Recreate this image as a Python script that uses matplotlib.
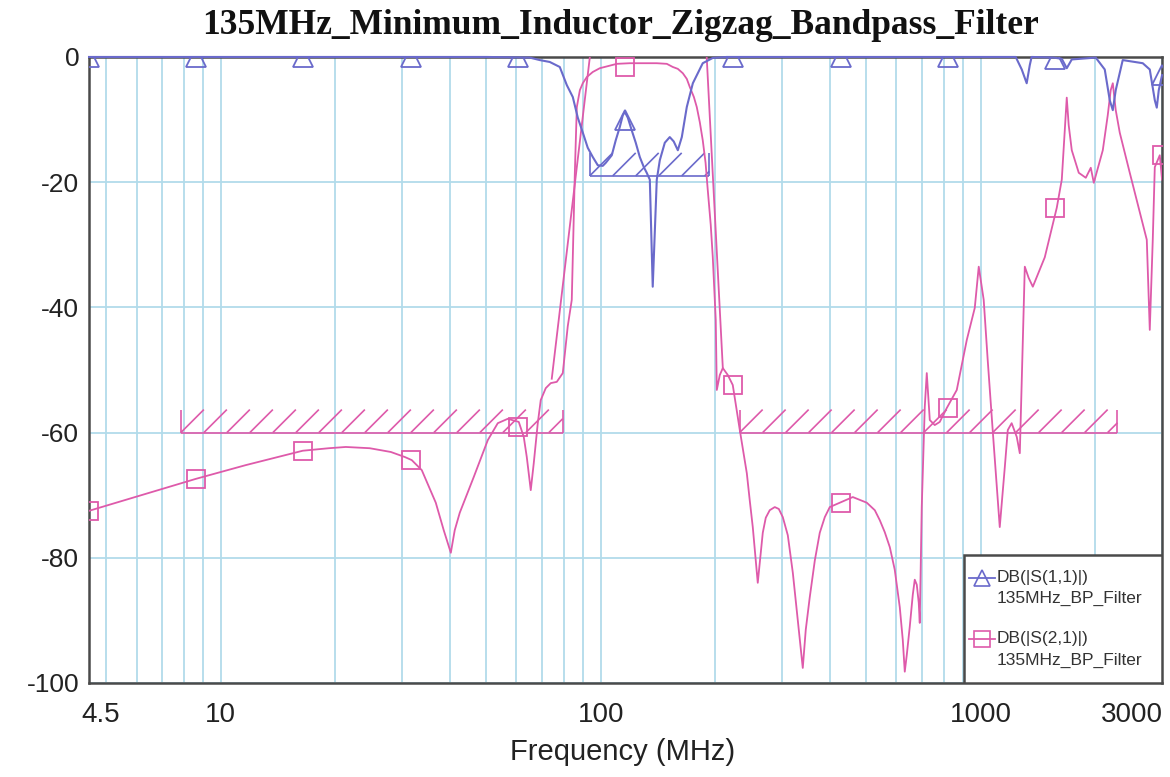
import numpy as np
import matplotlib
matplotlib.use("Agg")
import matplotlib.pyplot as plt
from matplotlib.collections import LineCollection
from matplotlib.transforms import IdentityTransform, ScaledTranslation
from matplotlib.patches import Rectangle
from matplotlib.lines import Line2D
from matplotlib.ticker import LogLocator, NullFormatter

plt.rcParams['font.family'] = ['Liberation Sans', 'DejaVu Sans']

title = "135MHz_Minimum_Inductor_Zigzag_Bandpass_Filter"

# DB(|S(1,1)|), frequency in MHz
s11_freq = [4.5, 20, 50, 65, 69.1, 73.4, 78.0, 81.4, 84.4, 87.0,
            89.7, 92.4, 95.3, 98.2, 101.2, 103.1, 106.9, 109.5, 112.2, 114.3,
            115.7, 117.8, 120.6, 123.6, 126.7, 129.8, 132.1, 134.6, 137.0, 140.4,
            143.0, 147.4, 151.9, 155.6, 159.5, 163.4, 168.4, 174.7, 185.5, 197.1,
            214.6, 500, 1236, 1282, 1321, 1346, 1361, 1556, 1634, 1684,
            1736, 2007, 2120, 2185, 2226, 2266, 2364, 2669, 2785, 2871,
            2906, 2941, 3000]
s11_db = [0, 0, 0, -0.1, -0.5, -0.8, -1.6, -4.5, -6.4, -9.7,
          -12.1, -14.5, -16.0, -17.3, -17.4, -16.9, -15.7, -13.3, -11.2, -9.3,
          -8.8, -9.7, -11.7, -13.7, -16.0, -17.6, -18.5, -19.6, -36.7, -19.6,
          -16.5, -13.7, -12.8, -13.5, -14.9, -12.8, -8.0, -4.2, -1.0, -0.16,
          0, 0, 0, -2.0, -4.2, -1.3, 0, -0.1, -0.3, -1.8,
          -0.4, -0.1, -2.0, -6.9, -8.5, -5.3, -0.5, -1.0, -2.0, -6.9,
          -8.1, -5.3, -2.9]

# DB(|S(2,1)|)
s21_freq = [4.5, 8.59, 11.63, 16.43, 19.24, 21.33, 24.66, 28.02, 30.49, 31.81,
            33.80, 36.79, 38.61, 40.30, 41.27, 42.55, 46.31, 50.43, 53.57, 56.92,
            60.84, 62.71, 63.86, 65.42, 66.62, 68.26, 69.51, 71.65, 73.86, 76.60,
            79.43, 81.87, 83.88, 85.45, 86.49, 88.1, 89.67, 91.9, 95.27, 99.4,
            110.2, 119.2, 140.4, 149.2, 154.7, 159.5, 164.4, 168.4, 171.5, 175.8,
            178.9, 182.2, 185.5, 188.7, 191.2, 194.7, 197.1, 200.7, 202.0, 205.7,
            209.5, 215.9, 222.5, 229.4, 232.2, 242.3, 246.6, 251.2, 255.8, 258.9,
            266.9, 271.8, 278.4, 287.0, 294.1, 301.3, 310.6, 320.2, 329.9, 340.1,
            346.3, 354.8, 365.9, 377.0, 388.7, 400.6, 425.6, 460.5, 501.2, 526.2,
            542.4, 558.9, 576.3, 593.8, 612.2, 623.4, 631.0, 638.8, 650.4, 662.4,
            670.4, 678.6, 686.8, 691.0, 699.4, 712.3, 721.0, 734.3, 756.8, 780.0,
            813.6, 864.7, 918.9, 964.3, 987.9, 1018, 1043, 1075, 1122, 1157,
            1178, 1206, 1244, 1267, 1306, 1337, 1371, 1474, 1585, 1634,
            1664, 1684, 1704, 1736, 1811, 1890, 1948, 1984, 2095, 2159,
            2198, 2226, 2266, 2322, 2467, 2653, 2735, 2785, 2836, 2871,
            2959, 3000]
s21_db = [-72.5, -67.4, -65.2, -62.9, -62.5, -62.3, -62.5, -63.1, -63.9, -64.4,
          -66.0, -71.2, -75.6, -79.2, -75.6, -72.8, -67.1, -61.2, -58.5, -57.8,
          -58.3, -60.7, -63.9, -69.2, -64.9, -58.5, -54.8, -52.9, -52.1, -51.9,
          -50.5, -43.0, -38.8, -18.5, -8.0, -5.3, -4.2, -3.2, -2.4, -1.8,
          -1.1, -1.0, -1.0, -1.1, -1.6, -1.9, -2.6, -3.5, -4.8, -6.4,
          -8.0, -10.4, -13.3, -16.9, -21.2, -26.8, -31.9, -42.0, -53.2, -50.8,
          -49.7, -50.8, -52.4, -57.5, -59.6, -66.5, -70.8, -75.1, -80.4, -84.0,
          -76.0, -73.6, -72.4, -71.9, -72.2, -73.5, -76.4, -82.4, -89.9, -97.6,
          -91.5, -86.3, -80.4, -76.0, -73.5, -71.9, -71.2, -70.3, -71.2, -72.4,
          -74.0, -75.9, -78.3, -81.9, -87.9, -93.1, -98.2, -95.5, -91.0, -85.9,
          -83.5, -84.3, -87.2, -90.4, -71.9, -55.9, -50.5, -58.0, -58.8, -58.3,
          -56.1, -53.2, -45.2, -40.1, -33.5, -38.8, -48.4, -59.6, -75.1, -65.5,
          -59.6, -58.5, -60.7, -63.3, -33.5, -35.3, -36.7, -32.0, -24.1, -19.6,
          -11.7, -6.5, -10.9, -14.9, -18.5, -19.3, -17.7, -20.1, -14.9, -9.3,
          -5.3, -4.2, -8.5, -12.1, -18.5, -26.0, -29.2, -43.6, -29.2, -17.6,
          -15.7, -19.6]

# second pair of steep S21 skirt lines (gap = nan)
s21_skirt_freq = [74.3, 93.6, np.nan, 190.0, 209.5]
s21_skirt_db = [-51.4, 0.0, np.nan, 0.0, -49.7]

# trace markers
marker_freq = [4.5, 8.6, 16.5, 31.7, 60.7, 116, 223, 428, 820, 1570, 3000]
s11_marker_db = [0, 0, 0, 0, 0, -10.0, 0, 0, 0, -0.3, -2.9]
s21_marker_db = [-72.6, -67.4, -62.9, -64.4, -59.1, -1.6, -52.4, -71.2, -56.1, -24.1, -15.6]

# optimization goals: (start MHz, stop MHz, dB)
s21_goals = [(7.85, 79.4, -60), (232, 2290, -60)]
s11_goals = [(93.5, 193, -19)]

xtick_vals = [4.5, 10, 100, 1000, 3000]
xtick_text = ['4.5', '10', '100', '1000', '3000']
ytick_vals = [0, -20, -40, -60, -80, -100]

blue = '#6a6acb'
pink = '#de5aaa'
grid_c = '#b2dbea'
frame_c = '#4a4a4a'

fig = plt.figure(figsize=(11.7, 7.77), dpi=100)
ax = fig.add_axes([0.0761, 0.1210, 0.9171, 0.8057])
ax.set_xscale('log')
ax.set_xlim(4.5, 3000)
ax.set_ylim(-100, 0)

ax.set_xticks(xtick_vals)
ax.set_xticklabels(xtick_text)
ax.xaxis.set_minor_locator(LogLocator(base=10, subs=np.arange(2, 10)))
ax.xaxis.set_minor_formatter(NullFormatter())
ax.set_yticks(ytick_vals)
ax.set_yticklabels([str(v) for v in ytick_vals])
ax.tick_params(which='both', length=0)
ax.tick_params(axis='x', labelsize=20, pad=14, colors='#222222')
ax.tick_params(axis='y', labelsize=19, pad=7, colors='#222222')
ax.grid(True, which='both', axis='x', color=grid_c, lw=1.3)
ax.grid(True, which='major', axis='y', color=grid_c, lw=1.3)
ax.set_axisbelow(True)
for s in ax.spines.values():
    s.set_color(frame_c)
    s.set_linewidth(1.8)

# shift the edge labels inwards like the original
offs = {'4.5': 12, '3000': -30}
for lab in ax.get_xticklabels():
    dx = offs.get(lab.get_text(), 0)
    if dx:
        lab.set_transform(lab.get_transform() + ScaledTranslation(dx / 100, 0, fig.dpi_scale_trans))


def draw_goal(f_lo, f_hi, level, color, h=23, step=23):
    (x0, yb), (x1, _) = ax.transData.transform([(f_lo, level), (f_hi, level)])
    segs = [[(x0, yb), (x1, yb)], [(x0, yb), (x0, yb + h)], [(x1, yb), (x1, yb + h)]]
    x = x0
    while x < x1 - 1:
        xe = min(x + h, x1)
        segs.append([(x, yb), (xe, yb + (xe - x))])
        x += step
    ax.add_collection(LineCollection(segs, colors=color, linewidths=1.2,
                                     transform=IdentityTransform()), autolim=False)


for g in s21_goals:
    draw_goal(*g, pink)
for g in s11_goals:
    draw_goal(*g, blue)

ax.plot(s21_freq, s21_db, color=pink, lw=1.3, zorder=3)
ax.plot(s21_skirt_freq, s21_skirt_db, color=pink, lw=1.3, zorder=3)
ax.plot(marker_freq, s21_marker_db, ls='none', marker='s', ms=13, mfc='none',
        mec=pink, mew=1.3, zorder=3)
ax.plot(s11_freq, s11_db, color=blue, lw=1.5, zorder=4, clip_on=False)
ax.plot(marker_freq, s11_marker_db, ls='none', marker='^', ms=14, mfc='none',
        mec=blue, mew=1.3, zorder=4)

# legend box
ax.add_patch(Rectangle((0.8155, 0.0), 0.1845, 0.2045, transform=ax.transAxes,
                       facecolor='white', edgecolor=frame_c, lw=1.8, zorder=6))
for y1, y2, col, mk, name in [(0.1677, 0.1358, blue, '^', 'DB(|S(1,1)|)'),
                              (0.0703, 0.0367, pink, 's', 'DB(|S(2,1)|)')]:
    ax.add_line(Line2D([0.8201, 0.8444], [y1, y1], transform=ax.transAxes, color=col,
                       lw=1.3, zorder=7))
    ax.add_line(Line2D([0.8322], [y1], transform=ax.transAxes, marker=mk, ms=12,
                       mfc='none', mec=col, mew=1.2, zorder=7))
    ax.text(0.8462, y1, name, transform=ax.transAxes, fontsize=12.5, color='#333333',
            va='center', ha='left', zorder=8)
    ax.text(0.8462, y2, '135MHz_BP_Filter', transform=ax.transAxes, fontsize=12.5,
            color='#333333', va='center', ha='left', zorder=8)

fig.text(0.530, 1 - 25 / 777, title, ha='center', va='center', fontsize=25.5,
         fontweight='bold', family=['Liberation Serif', 'DejaVu Serif'], color='#111111')
fig.text(623 / 1170, 1 - 752 / 777, 'Frequency (MHz)', ha='center', va='center',
         fontsize=21, color='#222222')

fig.savefig('out.png', dpi=100)
